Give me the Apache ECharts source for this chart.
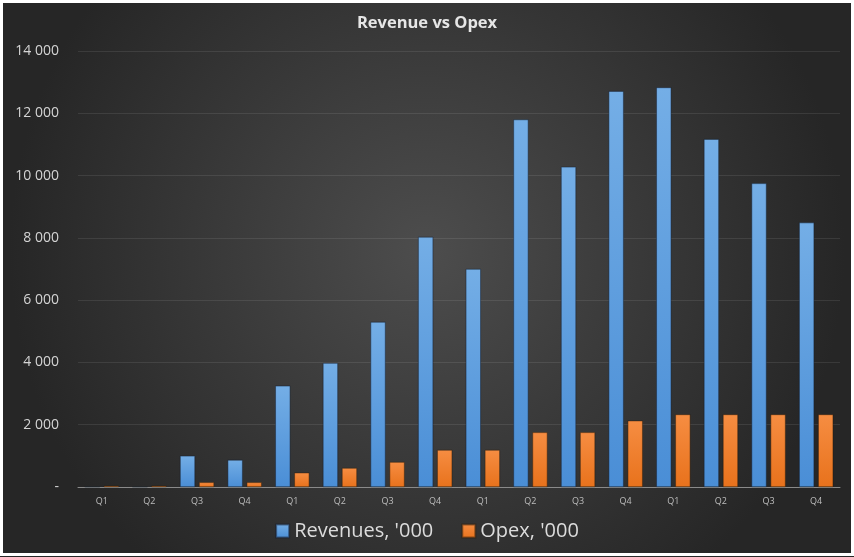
<!DOCTYPE html>
<html>
<head>
<meta charset="utf-8">
<script src="https://cdn.jsdelivr.net/npm/echarts@6/dist/echarts.min.js"></script>
<style>
html,body{margin:0;padding:0;background:#fff;}
#c{width:854px;height:557px;}
</style>
</head>
<body>
<div id="c"></div>
<script>
var categories = ['Q1','Q2','Q3','Q4','Q1','Q2','Q3','Q4','Q1','Q2','Q3','Q4','Q1','Q2','Q3','Q4'];
var revenues = [0, 0, 1000, 870, 3250, 3980, 5300, 8030, 7000, 11800, 10280, 12710, 12830, 11170, 9750, 8490];
var opex = [40, 40, 150, 150, 460, 610, 800, 1190, 1190, 1755, 1755, 2130, 2330, 2330, 2330, 2330];
var yTicks = [0, 2000, 4000, 6000, 8000, 10000, 12000, 14000];

var chart = echarts.init(document.getElementById('c'));
function fmt(v){
  if (v === 0) return '-';
  return String(v).replace(/\B(?=(\d{3})+(?!\d))/g, ' ');
}
chart.setOption({
  backgroundColor: {
    type: 'radial', x: 0.5, y: 0.45, r: 0.75,
    colorStops: [{offset: 0, color: '#4d4d4d'}, {offset: 1, color: '#262626'}]
  },
  title: {
    text: 'Revenue vs Opex', left: 'center', top: 10,
    textStyle: {color: '#e6e6e6', fontFamily: 'Open Sans', fontWeight: 'bold', fontSize: 16.5}
  },
  grid: {left: 78, right: 14, top: 51, bottom: 70},
  legend: {
    bottom: 11, left: 'center', itemWidth: 13, itemHeight: 13, itemGap: 28,
    icon: 'rect',
    textStyle: {color: '#dcdcdc', fontFamily: 'Open Sans', fontSize: 20},
    data: ["Revenues, '000", "Opex, '000"]
  },
  xAxis: {
    type: 'category', data: categories,
    axisLine: {lineStyle: {color: '#8a8a8a', width: 1}},
    axisTick: {show: false},
    axisLabel: {color: '#bdbdbd', fontFamily: 'Open Sans', fontSize: 9, margin: 10}
  },
  yAxis: {
    type: 'value', min: 0, max: 14000, interval: 2000,
    axisLine: {show: false}, axisTick: {show: false},
    splitLine: {lineStyle: {color: 'rgba(255,255,255,0.09)', width: 1}},
    axisLabel: {color: '#d4d4d4', fontFamily: 'Open Sans', fontSize: 14, margin: 19, formatter: fmt}
  },
  series: [
    {
      name: "Revenues, '000", type: 'bar', data: revenues, barWidth: 15, barGap: '27%',
      itemStyle: {
        color: {type: 'linear', x: 0, y: 0, x2: 0, y2: 1,
          colorStops: [{offset: 0, color: '#74aee6'}, {offset: 1, color: '#4a8ed6'}]},
        borderColor: 'rgba(20,30,50,0.5)', borderWidth: 0.5
      }
    },
    {
      name: "Opex, '000", type: 'bar', data: opex, barWidth: 15,
      itemStyle: {
        color: {type: 'linear', x: 0, y: 0, x2: 0, y2: 1,
          colorStops: [{offset: 0, color: '#f68d42'}, {offset: 1, color: '#e8721c'}]},
        borderColor: 'rgba(50,30,10,0.5)', borderWidth: 0.5
      }
    }
  ],
  graphic: [{
    type: 'rect', z: 100, silent: true,
    shape: {x: 1.5, y: 1.5, width: 851, height: 553},
    style: {fill: 'none', stroke: '#ffffff', lineWidth: 3}
  }]
});
</script>
</body>
</html>
